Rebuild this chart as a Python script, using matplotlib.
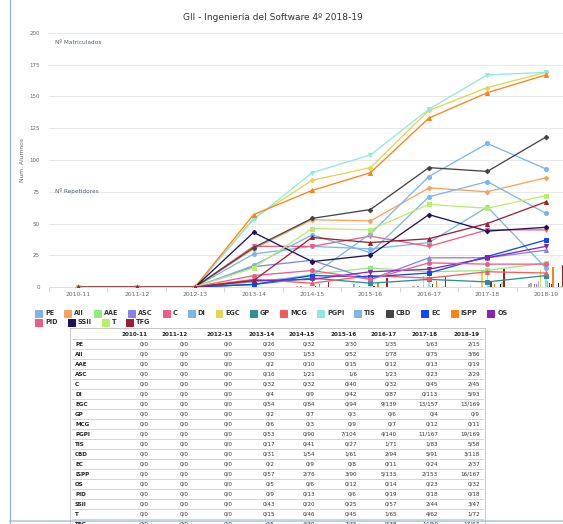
import numpy as np
import matplotlib.pyplot as plt
from matplotlib.lines import Line2D
from matplotlib.patches import Rectangle

years = ['2010-11', '2011-12', '2012-13', '2013-14', '2014-15',
         '2015-16', '2016-17', '2017-18', '2018-19']
subjects = ['PE', 'AII', 'AAE', 'ASC', 'C', 'DI', 'EGC', 'GP', 'MCG', 'PGPI',
            'TIS', 'CBD', 'EC', 'ISPP', 'OS', 'PID', 'SSII', 'T', 'TFG']
colors = ['#7cb5ec', '#f7a35c', '#90ed7d', '#8085e9', '#f15c80', '#7cb5ec',
          '#e4d354', '#2b908f', '#f45b5b', '#91e8e1', '#7cb5ec', '#434348',
          '#0d47f5', '#fb8316', '#8a22b0', '#ee5c86', '#1f1059', '#b9ee6c',
          '#a01e35']
markers = ['o', 'D', 's', '^', 'v']

# repetidores / matriculados per subject and year
repetidores = [
    [0, 0, 0, 0, 0, 2, 1, 1, 2],
    [0, 0, 0, 0, 1, 0, 1, 0, 3],
    [0, 0, 0, 0, 0, 0, 0, 0, 0],
    [0, 0, 0, 0, 1, 1, 1, 0, 2],
    [0, 0, 0, 0, 0, 0, 0, 0, 2],
    [0, 0, 0, 0, 0, 0, 0, 0, 5],
    [0, 0, 0, 0, 0, 0, 9, 13, 13],
    [0, 0, 0, 0, 0, 0, 0, 0, 0],
    [0, 0, 0, 0, 0, 0, 0, 0, 0],
    [0, 0, 0, 0, 0, 7, 4, 11, 19],
    [0, 0, 0, 0, 0, 0, 1, 1, 5],
    [0, 0, 0, 0, 1, 1, 2, 5, 3],
    [0, 0, 0, 0, 0, 0, 0, 0, 2],
    [0, 0, 0, 0, 2, 3, 5, 2, 16],
    [0, 0, 0, 0, 0, 0, 0, 0, 0],
    [0, 0, 0, 0, 0, 0, 0, 0, 0],
    [0, 0, 0, 0, 0, 0, 0, 2, 3],
    [0, 0, 0, 0, 0, 0, 1, 4, 1],
    [0, 0, 0, 0, 4, 7, 9, 14, 17],
]
matriculados = [
    [0, 0, 0, 26, 32, 30, 35, 63, 15],
    [0, 0, 0, 30, 53, 52, 78, 75, 86],
    [0, 0, 0, 2, 10, 15, 12, 13, 19],
    [0, 0, 0, 16, 21, 6, 23, 23, 29],
    [0, 0, 0, 32, 32, 40, 32, 45, 45],
    [0, 0, 0, 4, 9, 42, 87, 113, 93],
    [0, 0, 0, 54, 84, 94, 139, 157, 169],
    [0, 0, 0, 2, 7, 3, 6, 4, 9],
    [0, 0, 0, 6, 3, 9, 7, 12, 11],
    [0, 0, 0, 53, 90, 104, 140, 167, 169],
    [0, 0, 0, 17, 41, 27, 71, 83, 58],
    [0, 0, 0, 31, 54, 61, 94, 91, 118],
    [0, 0, 0, 2, 9, 8, 11, 24, 37],
    [0, 0, 0, 57, 76, 90, 133, 153, 167],
    [0, 0, 0, 5, 6, 12, 14, 23, 32],
    [0, 0, 0, 9, 13, 6, 19, 18, 18],
    [0, 0, 0, 43, 20, 25, 57, 44, 47],
    [0, 0, 0, 15, 46, 45, 65, 62, 72],
    [0, 0, 0, 5, 39, 35, 38, 50, 67],
]

W, H = 563, 524
fig = plt.figure(figsize=(W / 72, H / 72), dpi=72)

def fx(px):
    return px / W

def fy(py):
    return 1 - py / H

# container borders
fig.add_artist(Line2D([fx(10), fx(10)], [0, 1], color='#8fb0d2', lw=1.2))
fig.add_artist(Line2D([fx(10), 1], [fy(521), fy(521)], color='#a9c4e0', lw=1.5))

ax = fig.add_axes([fx(49), fy(287), fx(575) - fx(49), fy(33) - fy(287)])
x = np.arange(len(years))
n = len(subjects)
slot = 0.6 / n
for i in range(n):
    ax.bar(x - 0.3 + (i + 0.5) * slot, repetidores[i], width=slot * 0.8,
           color=colors[i], zorder=2)
for i in range(n):
    m = markers[i % 5]
    ax.plot(x, matriculados[i], color=colors[i], lw=1.3, marker=m,
            ms=3.2 if m == 'D' else 4, zorder=3 + i)

ax.set_xlim(-0.5, len(years) - 0.5)
ax.set_ylim(0, 200)
ax.set_yticks(np.arange(0, 201, 25))
ax.set_xticks(x)
ax.set_xticklabels(years)
ax.set_xticks(np.arange(-0.5, len(years)), minor=True)
ax.tick_params(axis='x', which='major', length=0, pad=5, labelsize=6, labelcolor='#666666')
ax.tick_params(axis='x', which='minor', length=5, color='#ccd6eb', width=1)
ax.tick_params(axis='y', length=0, pad=9, labelsize=5.5, labelcolor='#666666')
ax.grid(axis='y', color='#e6e6e6', lw=0.9, zorder=0)
ax.set_axisbelow(True)
for s in ['top', 'right', 'left']:
    ax.spines[s].set_visible(False)
ax.spines['bottom'].set_color('#ccd6eb')
ax.spines['bottom'].set_zorder(1)

fig.text(fx(273), fy(17), 'GII - Ingeniería del Software 4º 2018-19',
         ha='center', va='center', fontsize=9, color='#333333')
fig.text(fx(22), fy(160), 'Num. Alumnos', rotation=90, ha='center', va='center',
         fontsize=6, color='#666666')
fig.text(fx(55), fy(43), 'Nº Matriculados', ha='left', va='center', fontsize=5.8, color='#4d5f73')
fig.text(fx(55), fy(191), 'Nº Repetidores', ha='left', va='center', fontsize=5.8, color='#4d5f73')

# legend (flow layout)
fig.canvas.draw()
renderer = fig.canvas.get_renderer()
lx, ly = 35, 313
for i, name in enumerate(subjects):
    t = fig.text(0, 0, name, fontsize=6.5, fontweight='bold', color='#333333',
                 ha='left', va='center')
    tw = t.get_window_extent(renderer).width
    if lx + 10 + tw > 530:
        lx, ly = 35, ly + 9
    fig.add_artist(Rectangle((fx(lx), fy(ly + 3.5)), fx(7), 7 / H,
                             color=colors[i], transform=fig.transFigure))
    t.set_position((fx(lx + 10), fy(ly)))
    lx += 10 + tw + 10

# table
tl, tr, ttop = 70, 485, 328
row_h = 10
col_right = [148, 188, 233, 275, 315, 357, 397, 438, 480]
fig.add_artist(Line2D([fx(tl), fx(tl)], [fy(ttop), fy(H)], color='#bbbbbb', lw=0.8))
fig.add_artist(Line2D([fx(tr), fx(tr)], [fy(ttop), fy(H)], color='#bbbbbb', lw=0.8))
fig.add_artist(Line2D([fx(tl), fx(tr)], [fy(ttop), fy(ttop)], color='#bbbbbb', lw=0.8))
yc = ttop + 6
for j, yr in enumerate(years):
    fig.text(fx(col_right[j]), fy(yc), yr, ha='right', va='center', fontsize=5.6,
             fontweight='bold', color='#222222')
fig.add_artist(Line2D([fx(tl + 2), fx(tr - 2)], [fy(yc + 5), fy(yc + 5)], color='#cccccc', lw=0.8))
for i, name in enumerate(subjects):
    yc = ttop + 6 + (i + 1) * row_h
    fig.text(fx(75), fy(yc), name, ha='left', va='center', fontsize=5.6,
             fontweight='bold', color='#222222')
    for j in range(len(years)):
        fig.text(fx(col_right[j]), fy(yc), f'{repetidores[i][j]}/{matriculados[i][j]}',
                 ha='right', va='center', fontsize=5.6, color='#333333')
    fig.add_artist(Line2D([fx(tl + 2), fx(tr - 2)], [fy(yc + 5), fy(yc + 5)],
                          color='#cccccc', lw=0.8))

fig.savefig('out.png', dpi=72)
